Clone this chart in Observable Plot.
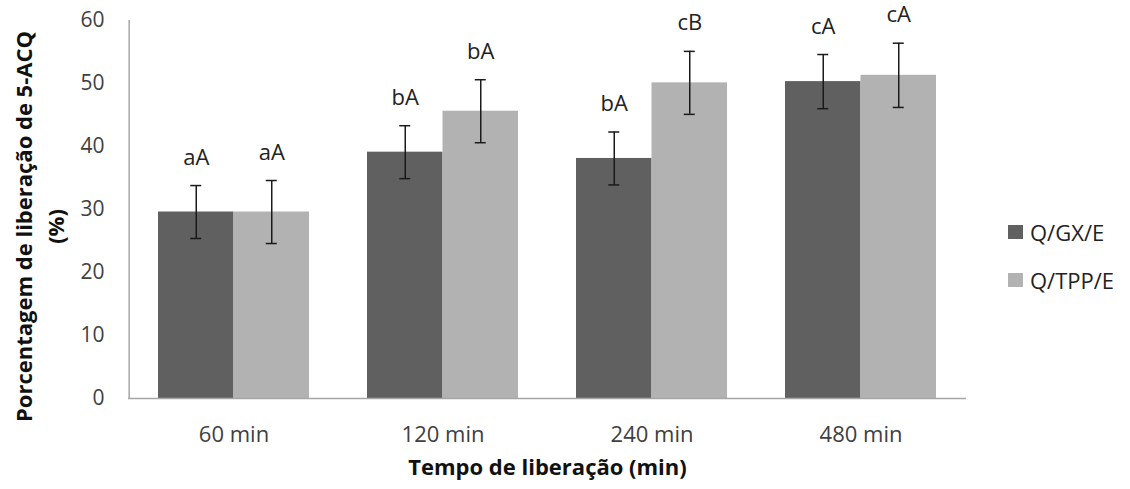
<!DOCTYPE html>
<html>
<head>
<meta charset="utf-8">
<script src="https://cdn.jsdelivr.net/npm/d3@7"></script>
<script src="https://cdn.jsdelivr.net/npm/@observablehq/plot@0.6"></script>
<style>
  body { margin: 0; background: #fff; font-family: "Open Sans", sans-serif; }
  #chart { position: relative; width: 1130px; height: 489px; }
  #legend { position: absolute; left: 1008px; top: 218px; font-size: 22px; color: #222; }
  #legend .item { display: flex; align-items: center; height: 28px; margin-bottom: 20px; }
  #legend .swatch { width: 15px; height: 14px; margin-right: 7px; }
</style>
</head>
<body>
<div id="chart"></div>
<script>
// Release time points and the two formulations
const categories = ["60 min", "120 min", "240 min", "480 min"];
const series = ["Q/GX/E", "Q/TPP/E"];

// Mean release (%) and standard deviation per formulation
const gxMean = [29.6, 39.1, 38.1, 50.3];
const gxSd = [4.2, 4.2, 4.2, 4.3];
const tppMean = [29.6, 45.6, 50.1, 51.3];
const tppSd = [5.0, 5.0, 5.0, 5.1];

// Significance letters
const gxLetters = ["aA", "bA", "bA", "cA"];
const tppLetters = ["aA", "bA", "cB", "cA"];

const yTicks = [0, 10, 20, 30, 40, 50, 60];

const colors = {"Q/GX/E": "#606060", "Q/TPP/E": "#b2b2b2"};

const gx = categories.map((c, i) => ({cat: c, series: series[0], mean: gxMean[i], sd: gxSd[i], letter: gxLetters[i]}));
const tpp = categories.map((c, i) => ({cat: c, series: series[1], mean: tppMean[i], sd: tppSd[i], letter: tppLetters[i]}));

// Layout of the band scale: each category band holds the two bars side by side
const W = 1130, H = 489;
const mL = 128, mR = 164, mT = 20, mB = 91;
const pInner = 0.279, pOuter = 0.14;
const step = (W - mL - mR) / (categories.length - pInner + 2 * pOuter);
const bw = step * (1 - pInner);
const capHalf = 5.5;
// offset from the first band's centre back to the left edge of the frame
const toLeftEdge = -(pOuter * step + bw / 2);

const hi = d => d.mean + d.sd;
const lo = d => d.mean - d.sd;

const plot = Plot.plot({
  width: W,
  height: H,
  marginLeft: mL,
  marginRight: mR,
  marginTop: mT,
  marginBottom: mB,
  style: {fontFamily: "Open Sans, sans-serif", background: "transparent", overflow: "visible"},
  x: {domain: categories, paddingInner: pInner, paddingOuter: pOuter, axis: null},
  y: {domain: [0, 60], axis: null},
  marks: [
    Plot.axisY({ticks: yTicks, tickSize: 0, tickPadding: 24, fontSize: 21, fill: "#404040", label: null}),
    Plot.axisX({tickSize: 0, tickPadding: 28, fontSize: 22, fill: "#404040", label: null}),
    // bars
    Plot.barY(gx, {x: "cat", y: "mean", fill: colors["Q/GX/E"], insetRight: bw / 2}),
    Plot.barY(tpp, {x: "cat", y: "mean", fill: colors["Q/TPP/E"], insetLeft: bw / 2}),
    // axis lines
    Plot.ruleY([0], {stroke: "#a6a6a6", strokeWidth: 1.5}),
    Plot.ruleX([categories[0]], {x: d => d, y1: 0, y2: 60, dx: toLeftEdge, stroke: "#a6a6a6", strokeWidth: 1.5}),
    // error bars
    Plot.ruleX(gx, {x: "cat", y1: lo, y2: hi, dx: -bw / 4, stroke: "#1a1a1a", strokeWidth: 1.5}),
    Plot.ruleX(tpp, {x: "cat", y1: lo, y2: hi, dx: bw / 4, stroke: "#1a1a1a", strokeWidth: 1.5}),
    Plot.tickY(gx, {x: "cat", y: hi, insetLeft: bw / 4 - capHalf, insetRight: 3 * bw / 4 - capHalf, stroke: "#1a1a1a", strokeWidth: 1.5}),
    Plot.tickY(gx, {x: "cat", y: lo, insetLeft: bw / 4 - capHalf, insetRight: 3 * bw / 4 - capHalf, stroke: "#1a1a1a", strokeWidth: 1.5}),
    Plot.tickY(tpp, {x: "cat", y: hi, insetLeft: 3 * bw / 4 - capHalf, insetRight: bw / 4 - capHalf, stroke: "#1a1a1a", strokeWidth: 1.5}),
    Plot.tickY(tpp, {x: "cat", y: lo, insetLeft: 3 * bw / 4 - capHalf, insetRight: bw / 4 - capHalf, stroke: "#1a1a1a", strokeWidth: 1.5}),
    // significance letters
    Plot.text(gx, {x: "cat", y: hi, text: "letter", dx: -bw / 4, dy: -28, fontSize: 22, fill: "#222"}),
    Plot.text(tpp, {x: "cat", y: hi, text: "letter", dx: bw / 4, dy: -28, fontSize: 22, fill: "#222"}),
    // axis titles
    Plot.text(["Tempo de liberação (min)"], {frameAnchor: "bottom", dy: 69, lineAnchor: "middle", textAnchor: "middle", fontSize: 22, fontWeight: "bold", fill: "#111"}),
    Plot.text(["Porcentagem de liberação de 5-ACQ\n(%)"], {frameAnchor: "left", textAnchor: "middle", lineAnchor: "middle", rotate: -90, dx: -91, dy: 17, lineHeight: 1.45, fontSize: 22, fontWeight: "bold", fill: "#111"})
  ]
});

const chart = document.getElementById("chart");
chart.appendChild(plot);

// Legend on the right
const legend = document.createElement("div");
legend.id = "legend";
for (const s of series) {
  const item = document.createElement("div");
  item.className = "item";
  const sw = document.createElement("span");
  sw.className = "swatch";
  sw.style.background = colors[s];
  const label = document.createElement("span");
  label.textContent = s;
  item.appendChild(sw);
  item.appendChild(label);
  legend.appendChild(item);
}
chart.appendChild(legend);
</script>
</body>
</html>
